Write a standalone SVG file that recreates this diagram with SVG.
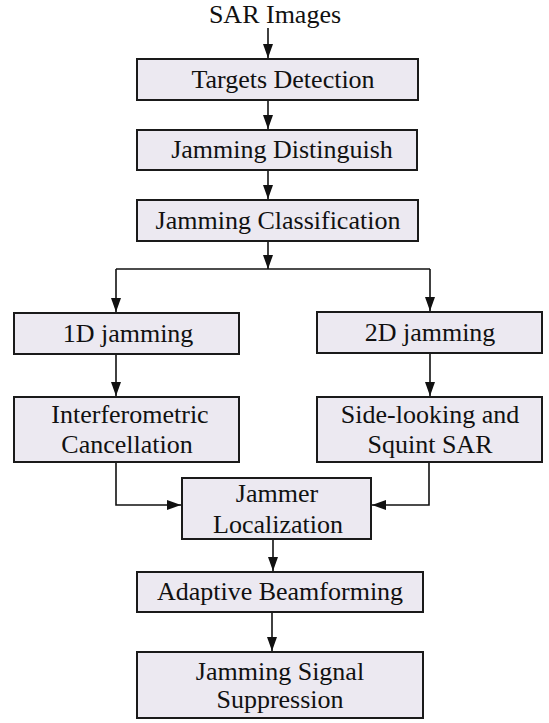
<svg xmlns="http://www.w3.org/2000/svg" width="549" height="723" viewBox="0 0 549 723">
<style>
.box{fill:#ECE9F1;stroke:#1a1a1a;stroke-width:2}
.t{font-family:"Liberation Serif","Times New Roman",serif;font-size:26px;fill:#111;text-anchor:middle}
.c{fill:none;stroke:#111;stroke-width:1.6}
</style>
<defs>
<marker id="ah" viewBox="0 0 14 10" refX="14" refY="5" markerWidth="14" markerHeight="10" markerUnits="userSpaceOnUse" orient="auto">
<path d="M0,0 L14,5 L0,10 Z" fill="#111"/>
</marker>
</defs>
<text id="input" class="t" x="275" y="23">SAR Images</text>
<g id="n1"><rect class="box" x="137" y="59" width="281" height="41"/><text class="t" x="283" y="88">Targets Detection</text></g>
<g id="n2"><rect class="box" x="137" y="130" width="280" height="40"/><text class="t" x="282" y="158">Jamming Distinguish</text></g>
<g id="n3"><rect class="box" x="137" y="200" width="281" height="41"/><text class="t" x="278" y="229">Jamming Classification</text></g>
<g id="n4"><rect class="box" x="14" y="313" width="225" height="41"/><text class="t" x="128" y="342">1D jamming</text></g>
<g id="n5"><rect class="box" x="317" y="312" width="225" height="41"/><text class="t" x="430" y="341">2D jamming</text></g>
<g id="n6"><rect class="box" x="14" y="397" width="225" height="65"/><text class="t" x="130" y="423">Interferometric</text><text class="t" x="127" y="453">Cancellation</text></g>
<g id="n7"><rect class="box" x="317" y="397" width="225" height="65"/><text class="t" x="430" y="423">Side-looking and</text><text class="t" x="430" y="453">Squint SAR</text></g>
<g id="n8"><rect class="box" x="182" y="478" width="189" height="61"/><text class="t" x="277" y="502">Jammer</text><text class="t" x="278" y="533">Localization</text></g>
<g id="n9"><rect class="box" x="137" y="572" width="286" height="40"/><text class="t" x="280" y="600">Adaptive Beamforming</text></g>
<g id="n10"><rect class="box" x="137" y="652" width="286" height="66"/><text class="t" x="280" y="680">Jamming Signal</text><text class="t" x="280" y="708">Suppression</text></g>
<g id="connectors">
<line class="c" x1="268" y1="28" x2="268" y2="58" marker-end="url(#ah)"/>
<line class="c" x1="268" y1="101" x2="268" y2="129" marker-end="url(#ah)"/>
<line class="c" x1="268" y1="171" x2="268" y2="199" marker-end="url(#ah)"/>
<line class="c" x1="268" y1="242" x2="268" y2="269" marker-end="url(#ah)"/>
<path class="c" d="M116,269 H430"/>
<line class="c" x1="116" y1="269" x2="116" y2="312" marker-end="url(#ah)"/>
<line class="c" x1="430" y1="269" x2="430" y2="311" marker-end="url(#ah)"/>
<line class="c" x1="116" y1="355" x2="116" y2="396" marker-end="url(#ah)"/>
<line class="c" x1="430" y1="354" x2="430" y2="396" marker-end="url(#ah)"/>
<path class="c" d="M116,463 V505 H181" marker-end="url(#ah)"/>
<path class="c" d="M429,463 V505 H372" marker-end="url(#ah)"/>
<line class="c" x1="273" y1="540" x2="273" y2="571" marker-end="url(#ah)"/>
<line class="c" x1="272" y1="613" x2="272" y2="651" marker-end="url(#ah)"/>
</g>
</svg>
